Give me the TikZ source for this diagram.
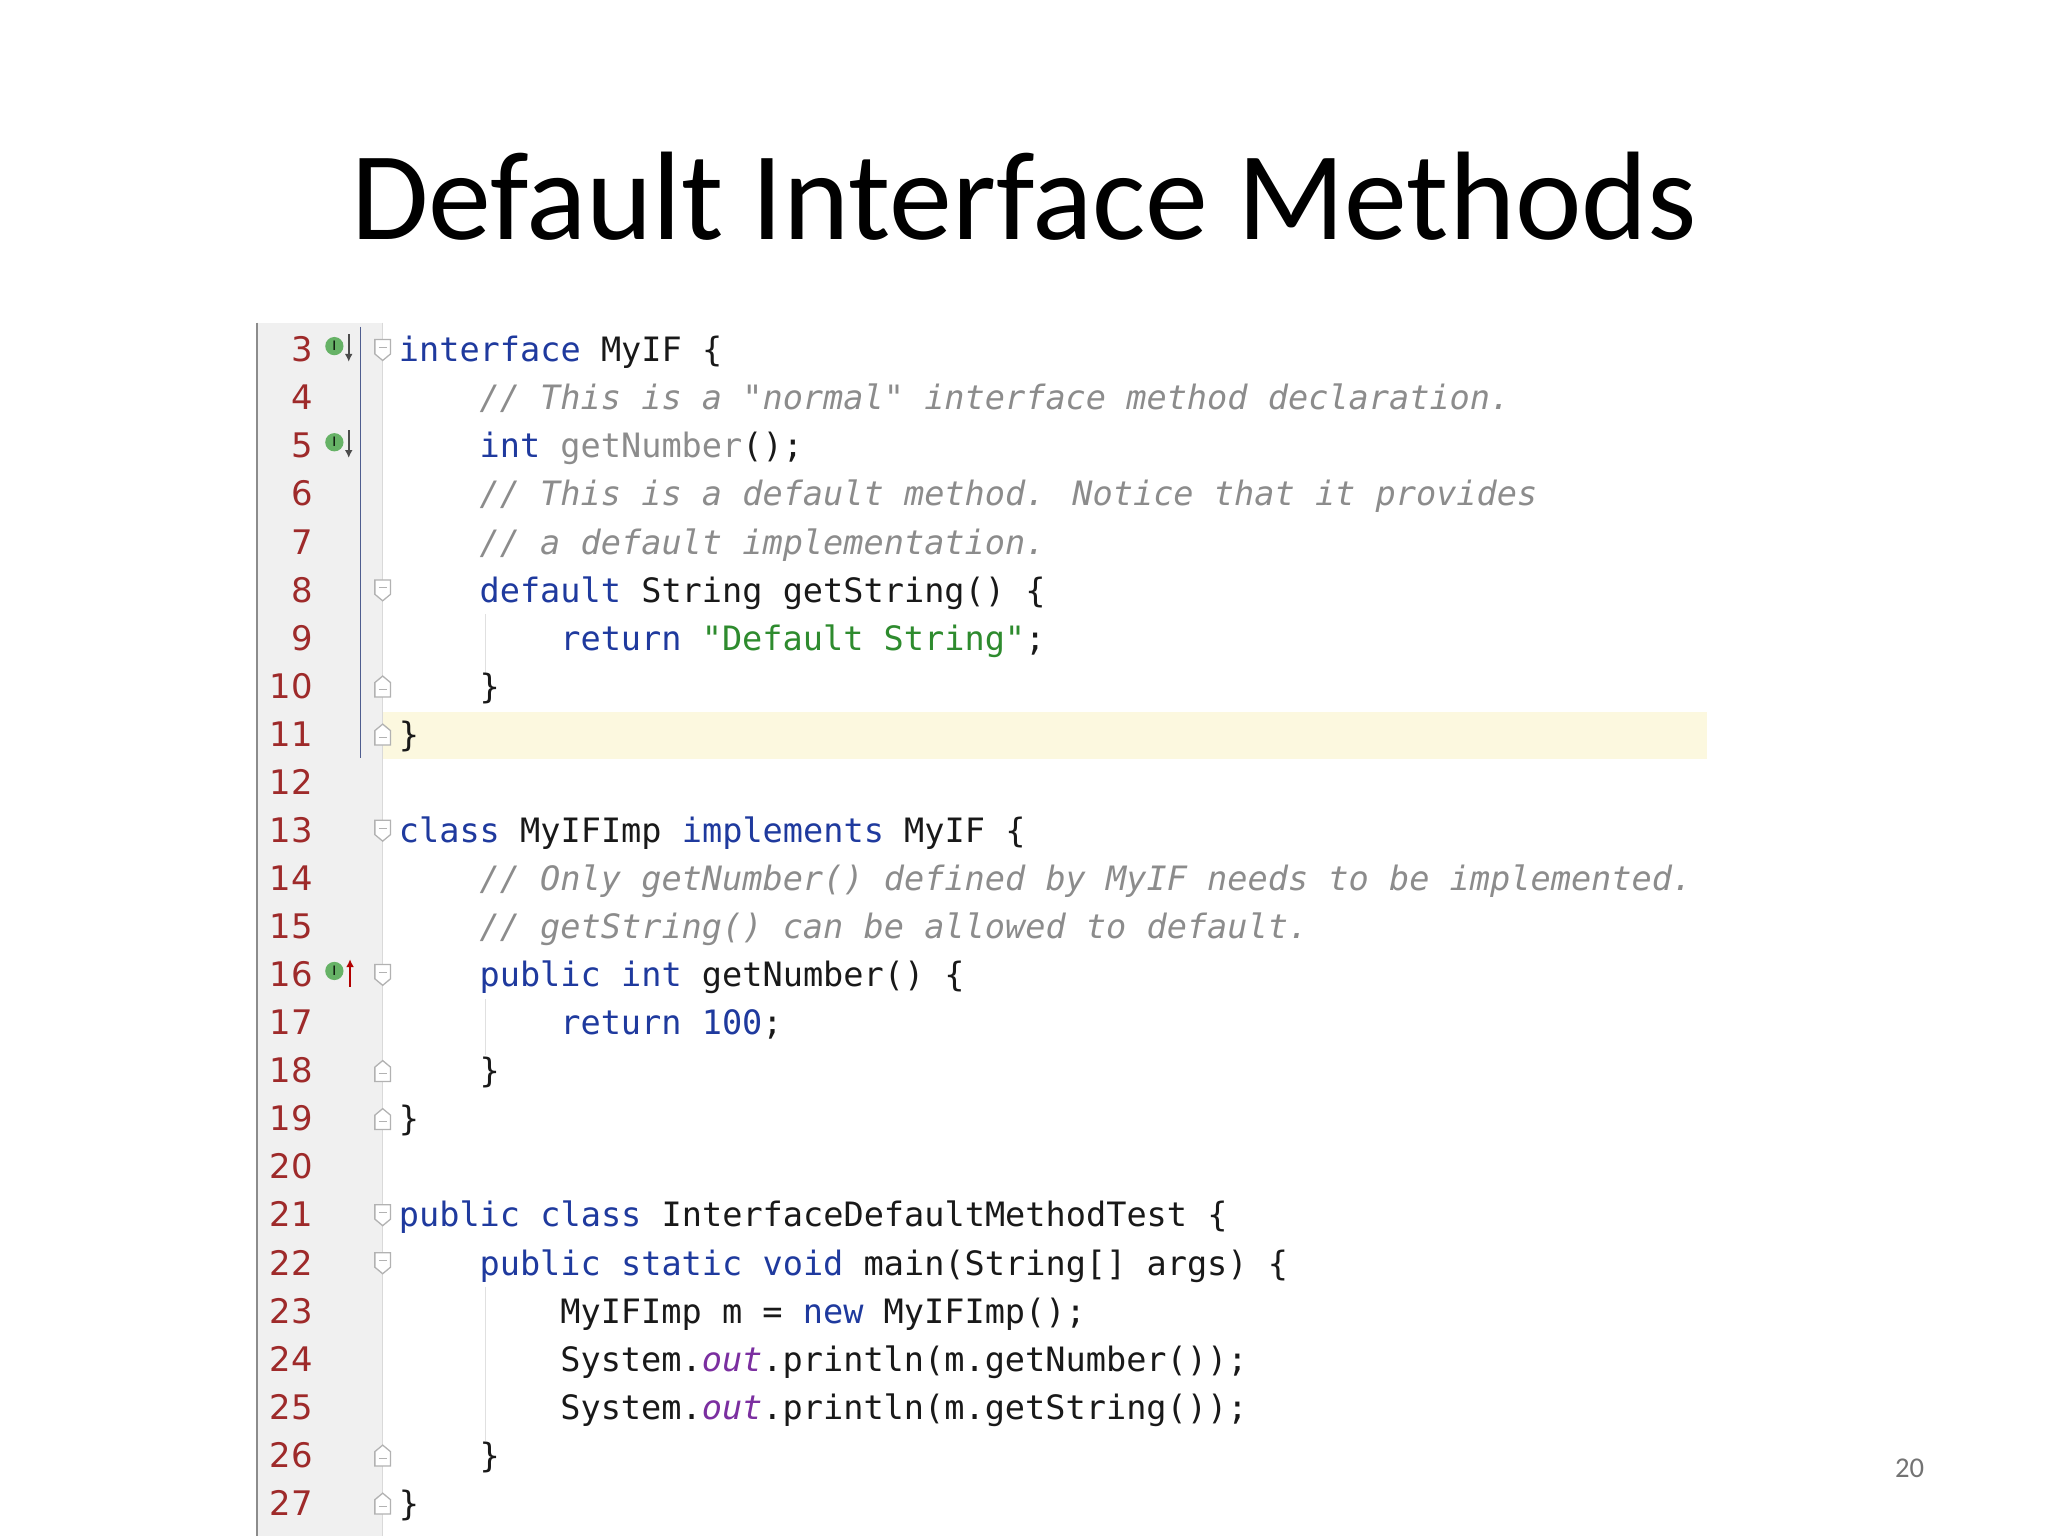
\documentclass[tikz,border=0pt]{standalone}
\usepackage{fontspec}
\usetikzlibrary{arrows.meta}
\setmainfont{Carlito}
\newfontfamily\codef{DejaVu Sans Mono}
\newfontfamily\numf{DejaVu Sans}
\definecolor{kwc}{HTML}{1F3A9E}
\definecolor{cmc}{HTML}{8C8C8C}
\definecolor{stc}{HTML}{2E8B2E}
\definecolor{ouc}{HTML}{7B2FA0}
\definecolor{lnc}{HTML}{9E2A2A}
\definecolor{gut}{HTML}{F0F0F0}
\definecolor{hil}{HTML}{FCF8DF}
\newcommand{\kw}[1]{\textcolor{kwc}{#1}}
\newcommand{\cm}[1]{\textcolor{cmc}{\itshape #1}}
\newcommand{\gr}[1]{\textcolor{cmc}{#1}}
\newcommand{\stq}[1]{\textcolor{stc}{#1}}
\newcommand{\ou}[1]{\textcolor{ouc}{\itshape #1}}
\tikzset{code/.style={anchor=base west,inner sep=0pt,font=\codef\fontsize{12.9}{14}\selectfont,text=black!90},
 lnum/.style={anchor=base east,inner sep=0pt,font=\numf\fontsize{13}{14}\selectfont,text=lnc},
 fold/.style={draw=black!30,fill=white,line width=0.5pt}}
\begin{document}
\begin{tikzpicture}[x=0.5bp,y=-0.5bp]
\useasboundingbox (0,0) rectangle (1568,1176);
\node[anchor=base,inner sep=0pt,font=\fontsize{48.4}{54}\selectfont] (title) at (784,183) {Default Interface Methods};
% background
\fill[hil] (197,545) rectangle (1307,581);
\fill[gut] (197,247) rectangle (293,1176);
\draw[black!45,line width=0.8pt] (197,247) -- (197,1176);
\draw[black!15] (293,247) -- (293,1176);
\draw[kwc!50!gray,line width=0.6pt] (276,250) -- (276,580);
% indent guides
\draw[black!12] (372,470) -- (372,515);
\draw[black!12] (372,765) -- (372,808);
\draw[black!12] (372,985) -- (372,1103);
% line numbers
\foreach \n in {3,...,27}{
  \node[lnum] (ln\n) at (240,{268+(\n-3)*36.8+9}) {\n};
}
% fold markers
\foreach \n in {3,8,13,16,21,22}{
  \pgfmathsetmacro{\yy}{268+(\n-3)*36.8}
  \draw[fold] (287,\yy-8) -- (299,\yy-8) -- (299,\yy+3) -- (293,\yy+8) -- (287,\yy+3) -- cycle;
  \draw[black!30,line width=0.4pt] (290,\yy-2) -- (296,\yy-2);
}
\foreach \n in {10,11,18,19,26,27}{
  \pgfmathsetmacro{\yy}{268+(\n-3)*36.8}
  \draw[fold] (287,\yy+8) -- (299,\yy+8) -- (299,\yy-3) -- (293,\yy-8) -- (287,\yy-3) -- cycle;
  \draw[black!30,line width=0.4pt] (290,\yy+2) -- (296,\yy+2);
}
% gutter icons
\foreach \n/\up in {3/0,5/0,16/1}{
  \pgfmathsetmacro{\yy}{268+(\n-3)*36.8}
  \fill[green!50!black!60] (256,\yy-3) circle (7);
  \node[inner sep=0pt,font=\numf\fontsize{5}{5}\selectfont] (ic\n) at (256,\yy-3) {I};
  \ifnum\up=0
    \draw[black!70,line width=0.8pt,-{Latex[length=3pt,width=3pt]}] (267,\yy-12) -- (267,\yy+9);
  \else
    \draw[red!70!black,line width=0.8pt,-{Latex[length=3pt,width=3pt]}] (268,\yy+9) -- (268,\yy-12);
  \fi
}
% code
\def\cx#1{\fpeval{305+#1*15.45}}
\def\cy#1{\fpeval{268+(#1-3)*36.8+9}}
\node[code] (c3)  at (\cx{0},\cy{3})  {\kw{interface} MyIF \{};
\node[code] (c4)  at (\cx{4},\cy{4})  {\cm{// This is a "normal" interface method declaration.}};
\node[code] (c5)  at (\cx{4},\cy{5})  {\kw{int} \gr{getNumber}();};
\node[code] (c6)  at (\cx{4},\cy{6})  {\cm{// This is a default method. Notice that it provides}};
\node[code] (c7)  at (\cx{4},\cy{7})  {\cm{// a default implementation.}};
\node[code] (c8)  at (\cx{4},\cy{8})  {\kw{default} String getString() \{};
\node[code] (c9)  at (\cx{8},\cy{9})  {\kw{return} \stq{"Default String"};};
\node[code] (c10) at (\cx{4},\cy{10}) {\}};
\node[code] (c11) at (\cx{0},\cy{11}) {\}};
\node[code] (c13) at (\cx{0},\cy{13}) {\kw{class} MyIFImp \kw{implements} MyIF \{};
\node[code] (c14) at (\cx{4},\cy{14}) {\cm{// Only getNumber() defined by MyIF needs to be implemented.}};
\node[code] (c15) at (\cx{4},\cy{15}) {\cm{// getString() can be allowed to default.}};
\node[code] (c16) at (\cx{4},\cy{16}) {\kw{public} \kw{int} getNumber() \{};
\node[code] (c17) at (\cx{8},\cy{17}) {\kw{return} \kw{100};};
\node[code] (c18) at (\cx{4},\cy{18}) {\}};
\node[code] (c19) at (\cx{0},\cy{19}) {\}};
\node[code] (c21) at (\cx{0},\cy{21}) {\kw{public} \kw{class} InterfaceDefaultMethodTest \{};
\node[code] (c22) at (\cx{4},\cy{22}) {\kw{public} \kw{static} \kw{void} main(String[] args) \{};
\node[code] (c23) at (\cx{8},\cy{23}) {MyIFImp m = \kw{new} MyIFImp();};
\node[code] (c24) at (\cx{8},\cy{24}) {System.\ou{out}.println(m.getNumber());};
\node[code] (c25) at (\cx{8},\cy{25}) {System.\ou{out}.println(m.getString());};
\node[code] (c26) at (\cx{4},\cy{26}) {\}};
\node[code] (c27) at (\cx{0},\cy{27}) {\}};
\node[anchor=base,inner sep=0pt,font=\fontsize{11}{12}\selectfont,text=black!55] (pg) at (1462,1131) {20};
\end{tikzpicture}
\end{document}
